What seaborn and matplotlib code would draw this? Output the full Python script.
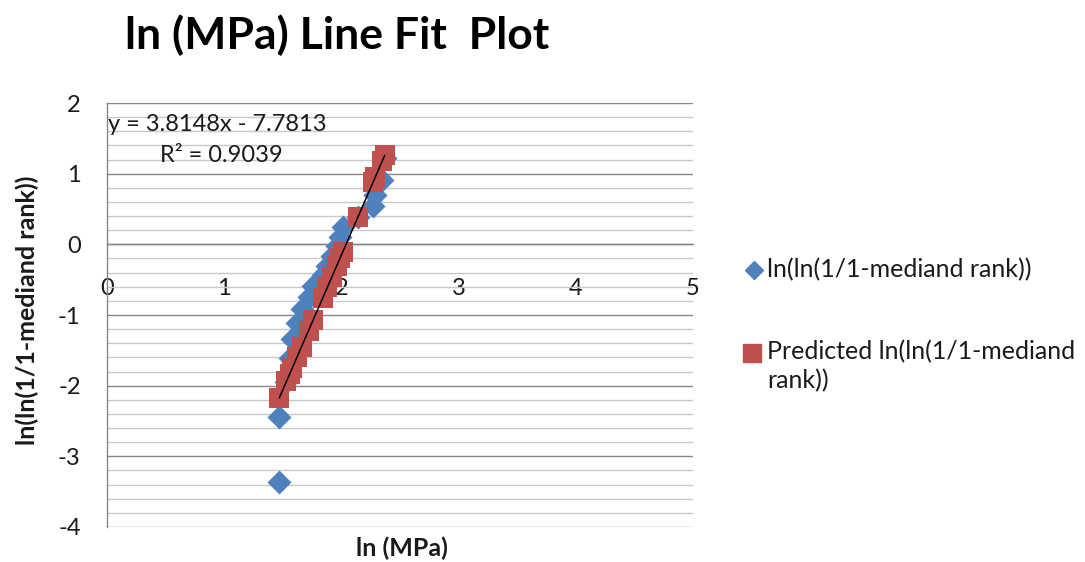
import matplotlib
matplotlib.use("Agg")
import matplotlib.pyplot as plt
from matplotlib.ticker import MultipleLocator
from matplotlib.lines import Line2D
import numpy as np
import pandas as pd
import seaborn as sns

# ln of strength (MPa) for each specimen, sorted
ln_mpa = [1.47, 1.47, 1.53, 1.56, 1.58, 1.62, 1.66, 1.72, 1.76, 1.84,
          1.88, 1.92, 1.96, 1.99, 2.01, 2.14, 2.27, 2.29, 2.35, 2.37]
# Weibull ordinate ln(ln(1/(1-median rank)))
weibull_y = [-3.36, -2.44, -1.95, -1.61, -1.34, -1.12, -0.92, -0.75, -0.59, -0.44,
             -0.30, -0.16, -0.03, 0.11, 0.24, 0.38, 0.54, 0.70, 0.91, 1.22]
# Fitted values from the regression
predicted_y = [-2.17, -2.17, -1.94, -1.83, -1.75, -1.60, -1.45, -1.22, -1.07, -0.76,
               -0.61, -0.46, -0.30, -0.19, -0.11, 0.38, 0.88, 0.95, 1.18, 1.26]

slope = 3.8148
intercept = -7.7813
r_squared = 0.9039

series_obs = "ln(ln(1/1-mediand rank))"
series_pred = "Predicted ln(ln(1/1-mediand\nrank))"

df = pd.DataFrame({"x": ln_mpa, "obs": weibull_y, "pred": predicted_y})

sns.set_theme(style="white")
plt.rcParams["font.family"] = ["Lato", "DejaVu Sans"]

blue = "#4F81BD"
red = "#C0504D"
axis_grey = "#868686"
minor_grey = "#C8C8C8"
text_col = "#1a1a1a"

fig = plt.figure(figsize=(10.85, 5.62), dpi=100)
ax = fig.add_axes([0.0986, 0.0623, 0.5401, 0.7544])

sns.scatterplot(data=df, x="x", y="obs", marker="D", s=150, color=blue,
                edgecolor=blue, linewidth=0, ax=ax, zorder=3, legend=False)
sns.scatterplot(data=df, x="x", y="pred", marker="s", s=190, color=red,
                edgecolor=red, linewidth=0, ax=ax, zorder=4, legend=False)

# Linear trend line over the data range
xl = np.array([min(ln_mpa), max(ln_mpa)])
ax.plot(xl, slope * xl + intercept, color="black", lw=1.1, zorder=5)

ax.set_xlim(0, 5)
ax.set_ylim(-4, 2)
ax.yaxis.set_major_locator(MultipleLocator(1))
ax.yaxis.set_minor_locator(MultipleLocator(0.2))
ax.xaxis.set_major_locator(MultipleLocator(1))

ax.grid(False)
ax.grid(which="major", axis="y", color=axis_grey, lw=1.0, zorder=0)
ax.grid(which="minor", axis="y", color=minor_grey, lw=1.0, zorder=0)
ax.set_axisbelow(True)

for s in ("top", "right"):
    ax.spines[s].set_visible(False)
ax.spines["left"].set_color(axis_grey)
ax.spines["bottom"].set_color(axis_grey)
ax.spines["bottom"].set_position(("data", 0))
ax.spines["left"].set_linewidth(1.0)
ax.spines["bottom"].set_linewidth(1.0)

ax.tick_params(axis="y", which="major", direction="out", length=7, width=1,
               color=axis_grey, labelsize=17, pad=12, labelcolor=text_col)
ax.tick_params(axis="y", which="minor", length=0)
ax.tick_params(axis="x", which="major", direction="out", length=7, width=1,
               color=axis_grey, labelsize=17, pad=17, labelcolor=text_col)
ax.set_yticklabels([f"{int(v)}" for v in ax.get_yticks()])

ax.set_xlabel("")
ax.set_ylabel("")
fig.text(0.370, 0.025, "ln (MPa)", ha="center", va="center",
         fontsize=18, fontweight="bold", color=text_col)
fig.text(0.025, 0.447, "ln(ln(1/1-mediand rank))", ha="center", va="center",
         rotation=90, fontsize=18, fontweight="bold", color=text_col)

fig.text(0.115, 0.938, "ln (MPa) Line Fit  Plot", ha="left", va="center",
         fontsize=32, fontweight="bold", color="black")

ax.text(0.01, 1.70, f"y = {slope}x - {abs(intercept)}", fontsize=17,
        ha="left", va="center", color=text_col, zorder=6)
ax.text(0.455, 1.26, f"R² = {r_squared}", fontsize=17,
        ha="left", va="center", color=text_col, zorder=6)

# Legend: marker keys with series names to the right of the plot
fig.add_artist(Line2D([754 / 1085], [1 - 270 / 562], marker="D", color=blue,
                      linestyle="none", markersize=9, transform=fig.transFigure))
fig.text(767 / 1085, 1 - 270 / 562, series_obs, ha="left", va="center",
         fontsize=18, color=text_col)
fig.add_artist(Line2D([752 / 1085], [1 - 353 / 562], marker="s", color=red,
                      linestyle="none", markersize=13, transform=fig.transFigure))
fig.text(767 / 1085, 1 - 340 / 562, series_pred, ha="left", va="top",
         fontsize=18, color=text_col, linespacing=1.3)

fig.savefig("out.png", dpi=100)
